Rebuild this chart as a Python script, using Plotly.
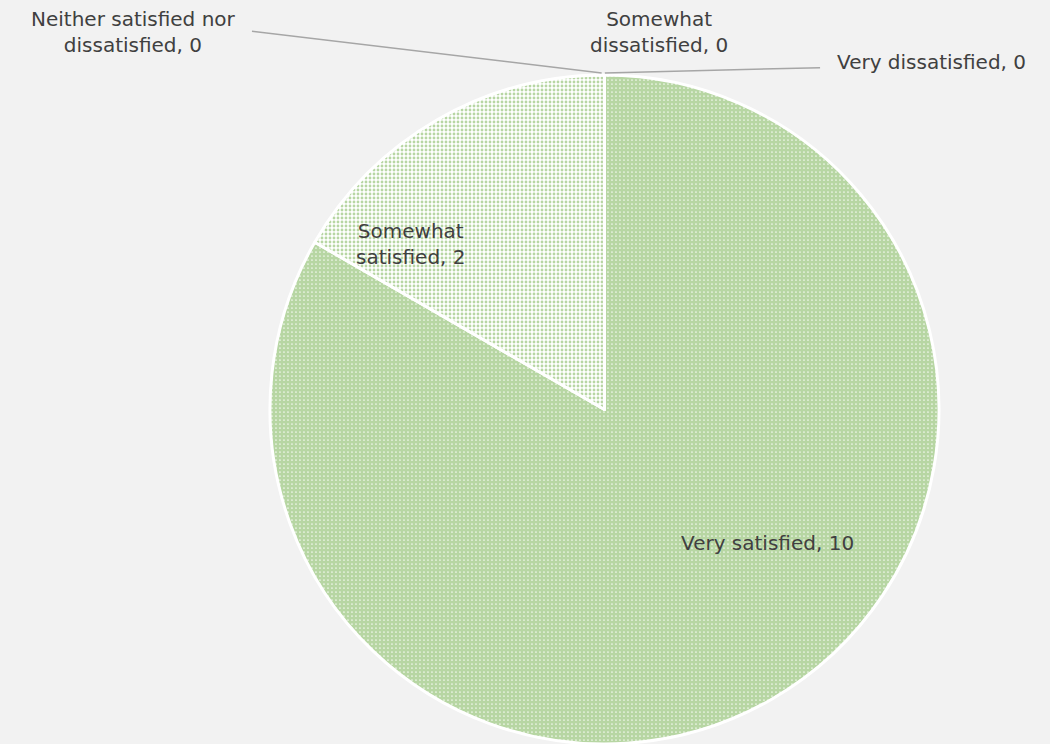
import plotly.graph_objects as go

# survey responses
labels = ["Very satisfied", "Somewhat satisfied", "Neither satisfied nor dissatisfied",
          "Somewhat dissatisfied", "Very dissatisfied"]
counts = [10, 2, 0, 0, 0]
label_text = ["Very satisfied, 10", "Somewhat<br>satisfied, 2", "Neither satisfied nor<br>dissatisfied, 0",
              "Somewhat<br>dissatisfied, 0", "Very dissatisfied, 0"]

GREEN = "#70ad47"
BG = "#f2f2f2"
TXT = "#404040"
FONT = "Century Gothic, DejaVu Sans, sans-serif"

fig = go.Figure(go.Pie(
    labels=labels,
    values=counts,
    sort=False,
    direction="clockwise",
    rotation=0,
    textinfo="none",
    marker=dict(
        colors=["white"] * 5,
        line=dict(color="white", width=3),
        pattern=dict(
            shape=[".", ".", "", "", ""],
            fgcolor=GREEN,
            bgcolor="white",
            size=[4, 4, 4, 4, 4],
            solidity=[0.82, 0.4, 0.5, 0.5, 0.5],
            fillmode="overlay",
        ),
    ),
    domain=dict(x=[0.2562, 0.8952], y=[0.0, 0.8992]),
    showlegend=False,
    hoverinfo="label+value",
))

# data labels (Excel-style placement)
ann_font = dict(family=FONT, size=20, color=TXT)
label_pos = [(0.7305, 0.270), (0.3914, 0.672), (0.1267, 0.957), (0.6276, 0.957), (0.8867, 0.9167)]
for t, (x, y) in zip(label_text, label_pos):
    fig.add_annotation(x=x, y=y, xref="paper", yref="paper", showarrow=False,
                       xanchor="center", yanchor="middle",
                       text=t, font=ann_font, align="center")

# leader lines for the zero slices
fig.add_shape(type="line", xref="paper", yref="paper", x0=0.240, y0=0.958, x1=0.573, y1=0.902,
              line=dict(color="#a6a6a6", width=1.5))
fig.add_shape(type="line", xref="paper", yref="paper", x0=0.576, y0=0.902, x1=0.781, y1=0.909,
              line=dict(color="#a6a6a6", width=1.5))

fig.update_layout(
    width=1050, height=744,
    margin=dict(l=0, r=0, t=0, b=0),
    paper_bgcolor=BG,
    plot_bgcolor=BG,
)

fig.write_html("out.html", config={"displayModeBar": False},
               post_script="document.body.style.margin='0';")
